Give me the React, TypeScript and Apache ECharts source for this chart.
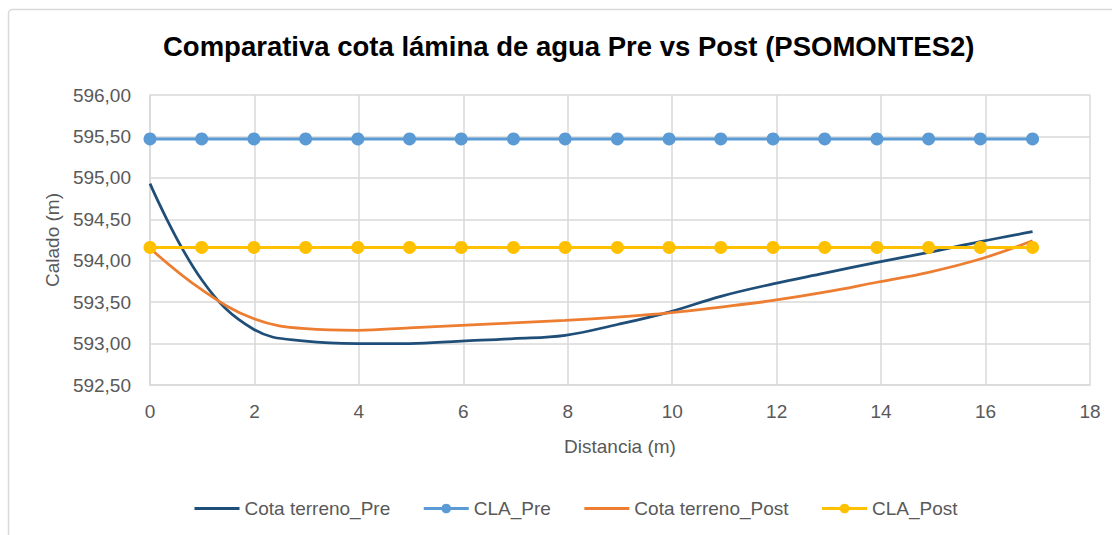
import React, { useEffect, useRef } from "react";
import * as echarts from "echarts";

const titleText = "Comparativa cota lámina de agua Pre vs Post (PSOMONTES2)";
const xName = "Distancia (m)";
const yName = "Calado (m)";

const distances = [0, 0.99, 1.99, 2.98, 3.98, 4.97, 5.96, 6.96, 7.95, 8.95, 9.94, 10.93, 11.93, 12.92, 13.92, 14.91, 15.9, 16.9];
const cotaTerrenoPre = [594.93, 593.77, 593.17, 593.03, 593.0, 593.0, 593.03, 593.06, 593.1, 593.23, 593.38, 593.57, 593.72, 593.85, 593.98, 594.1, 594.23, 594.35];
const claPre = [595.47, 595.47, 595.47, 595.47, 595.47, 595.47, 595.47, 595.47, 595.47, 595.47, 595.47, 595.47, 595.47, 595.47, 595.47, 595.47, 595.47, 595.47];
const cotaTerrenoPost = [594.15, 593.65, 593.3, 593.18, 593.16, 593.19, 593.22, 593.25, 593.28, 593.32, 593.37, 593.44, 593.52, 593.62, 593.74, 593.86, 594.02, 594.24];
const claPost = [594.16, 594.16, 594.16, 594.16, 594.16, 594.16, 594.16, 594.16, 594.16, 594.16, 594.16, 594.16, 594.16, 594.16, 594.16, 594.16, 594.16, 594.16];

const seriesNames = ["Cota terreno_Pre", "CLA_Pre", "Cota terreno_Post", "CLA_Post"];
const seriesColors = ["#1F4E79", "#5B9BD5", "#ED7D31", "#FFC000"];

const pairs = (ys: number[]) => distances.map((x, i) => [x, ys[i]]);

export default function App() {
  const ref = useRef<HTMLDivElement>(null);
  useEffect(() => {
    if (!ref.current) return;
    const chart = echarts.init(ref.current, undefined, { renderer: "svg" });
    const font = "Liberation Sans";
    const labelColor = "#595959";
    const gridColor = "#D9D9D9";
    chart.setOption({
      animation: false,
      backgroundColor: "#ffffff",
      graphic: [
        {
          type: "rect",
          shape: { x: 8.5, y: 9.5, width: 1120, height: 540, r: 4 },
          style: { fill: "none", stroke: gridColor, lineWidth: 1.5 },
          silent: true,
        },
      ],
      title: {
        text: titleText,
        left: 163,
        top: 32,
        padding: 0,
        textStyle: { fontFamily: font, fontWeight: "bold", fontSize: 27.5, color: "#000000" },
      },
      legend: {
        left: 193,
        top: 499,
        itemGap: 32,
        itemWidth: 45,
        itemHeight: 12,
        padding: 0,
        lineStyle: { width: 3 },
        textStyle: { fontFamily: font, fontSize: 19, color: labelColor },
        data: [
          { name: seriesNames[0], itemStyle: { opacity: 0 } },
          { name: seriesNames[1] },
          { name: seriesNames[2], itemStyle: { opacity: 0 } },
          { name: seriesNames[3] },
        ],
      },
      grid: { left: 150, right: 22, top: 95, bottom: 150 },
      xAxis: {
        type: "value",
        min: 0,
        max: 18,
        interval: 2,
        name: xName,
        nameLocation: "middle",
        nameGap: 52,
        nameTextStyle: { fontFamily: font, fontSize: 19, color: labelColor },
        axisLine: { show: true, lineStyle: { color: gridColor, width: 1.5 } },
        axisTick: { show: false },
        axisLabel: { fontFamily: font, fontSize: 19, color: labelColor, margin: 17 },
        splitLine: { show: true, lineStyle: { color: gridColor, width: 1.5 } },
      },
      yAxis: {
        type: "value",
        min: 592.5,
        max: 596,
        interval: 0.5,
        name: yName,
        nameLocation: "middle",
        nameGap: 86,
        nameTextStyle: { fontFamily: font, fontSize: 19, color: labelColor },
        axisLine: { show: true, lineStyle: { color: gridColor, width: 1.5 } },
        axisTick: { show: false },
        axisLabel: {
          fontFamily: font,
          fontSize: 19,
          color: labelColor,
          margin: 19,
          formatter: (v: number) => v.toFixed(2).replace(".", ","),
        },
        splitLine: { show: true, lineStyle: { color: gridColor, width: 1.5 } },
      },
      series: [
        {
          name: seriesNames[0],
          type: "line",
          data: pairs(cotaTerrenoPre),
          smooth: 0.4,
          symbol: "none",
          color: seriesColors[0],
          lineStyle: { width: 2.75, color: seriesColors[0] },
          z: 3,
        },
        {
          name: seriesNames[1],
          type: "line",
          data: pairs(claPre),
          symbol: "circle",
          symbolSize: 13,
          color: seriesColors[1],
          lineStyle: { width: 3, color: seriesColors[1] },
          itemStyle: { color: seriesColors[1] },
          z: 2,
        },
        {
          name: seriesNames[2],
          type: "line",
          data: pairs(cotaTerrenoPost),
          smooth: 0.4,
          symbol: "none",
          color: seriesColors[2],
          lineStyle: { width: 2.75, color: seriesColors[2] },
          z: 4,
        },
        {
          name: seriesNames[3],
          type: "line",
          data: pairs(claPost),
          symbol: "circle",
          symbolSize: 13,
          color: seriesColors[3],
          lineStyle: { width: 3, color: seriesColors[3] },
          itemStyle: { color: seriesColors[3] },
          z: 5,
        },
      ],
    });
    return () => chart.dispose();
  }, []);
  return (
    <div
      ref={ref}
      style={{ position: "absolute", left: 0, top: 0, width: 1112, height: 535, background: "#fff" }}
    />
  );
}
